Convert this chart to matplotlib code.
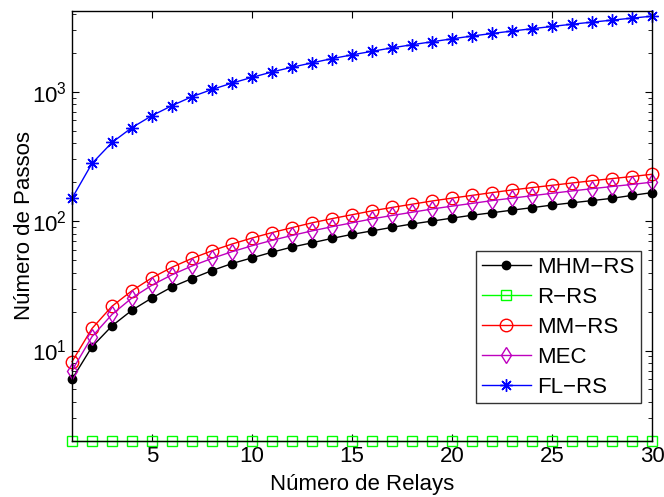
import numpy as np
import matplotlib
matplotlib.use('Agg')
import matplotlib.pyplot as plt
from matplotlib.ticker import LogLocator, NullFormatter

plt.rcParams['font.family'] = ['Liberation Sans', 'DejaVu Sans']

# %% data

relays = list(range(1, 31))

mhm_rs = [6.0, 10.7, 15.5, 20.5, 25.5, 31, 36, 41.5, 47, 52, 57.5, 63, 68, 73.5, 79,
          84, 89.5, 95, 100, 105.5, 111, 116, 121.5, 127, 133, 138.5, 144, 150, 158, 166]
r_rs = [2] * 30
mm_rs = [8.2, 14.8, 22, 29, 36.5, 44, 51.5, 59, 66.5, 74, 81.5, 89, 97, 104.5, 112,
         120, 127.5, 135, 143, 150.5, 158, 166, 174, 181.5, 189, 197, 205, 213, 221, 230]
mec = [7.0, 12.8, 19, 25.5, 32, 38.5, 45, 51.5, 58, 64.5, 71, 77.5, 84, 90.5, 97,
       104, 110.5, 117, 124, 130.5, 137, 144, 150.5, 157, 164, 171, 178, 185, 192, 200]
fl_rs = [150, 279, 405, 528, 653, 780, 915, 1040, 1165, 1290, 1420, 1545, 1670, 1800, 1925,
         2050, 2180, 2305, 2430, 2560, 2690, 2815, 2940, 3065, 3190, 3320, 3445, 3570, 3700, 3830]

asterisk = (8, 2, 0)

series = [
    ('MHM\u2212RS', mhm_rs, 'k', 'o', 'k', 6),
    ('R\u2212RS', r_rs, '#00ff00', 's', 'none', 6.5),
    ('MM\u2212RS', mm_rs, 'r', 'o', 'none', 9),
    ('MEC', mec, 'm', 'd', 'none', 8),
    ('FL\u2212RS', fl_rs, 'b', asterisk, 'b', 9),
]

# %% figure

fig = plt.figure(figsize=(6.64, 4.97), dpi=100)
ax = fig.add_axes([72/664, 1-441/497, 580/664, 430/497])

for label, vals, col, mk, fc, ms in series:
    ax.semilogy(relays, vals, color=col, marker=mk, markerfacecolor=fc,
                markeredgecolor=col, markersize=ms, linewidth=1.0,
                markeredgewidth=1.0, label=label, clip_on=False)

ax.set_xlim(1, 30)
ax.set_ylim(2, 4200)
ax.set_xticks([5, 10, 15, 20, 25, 30])
ax.yaxis.set_major_locator(LogLocator(base=10, numticks=10))
ax.yaxis.set_minor_locator(LogLocator(base=10, subs=np.arange(2, 10), numticks=10))
ax.yaxis.set_minor_formatter(NullFormatter())
ax.tick_params(which='both', direction='in', top=True, right=True, labelsize=16)
ax.tick_params(which='major', length=5)
ax.tick_params(which='minor', length=3)
for s in ax.spines.values():
    s.set_linewidth(1.0)

ax.set_xlabel('Número de Relays', fontsize=16, labelpad=5)
ax.set_ylabel('Número de Passos', fontsize=16, labelpad=-2)

leg = ax.legend(loc='lower left', bbox_to_anchor=(0.697, 0.088, 0.284, 0.359),
                mode='expand', fontsize=16, frameon=True, fancybox=False,
                borderaxespad=0, handlelength=2.2, handletextpad=0.3,
                labelspacing=0.4, borderpad=0.25)
leg.get_frame().set_edgecolor('k')
leg.get_frame().set_linewidth(1.0)

plt.savefig('out.png', dpi=100)
